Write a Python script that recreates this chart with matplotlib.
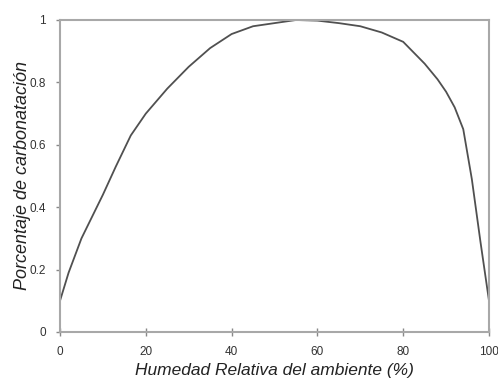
import matplotlib
matplotlib.use("Agg")
import matplotlib.pyplot as plt

plt.rcParams['font.family'] = ['Liberation Sans', 'DejaVu Sans']

humedad = [0, 2, 5, 7.5, 10, 13, 16.5, 20, 25, 30, 35, 40, 45, 50, 55, 60, 65, 70, 75, 80, 85, 88, 90, 92, 94, 96, 98, 100]
carbonatacion = [0.10, 0.19, 0.30, 0.37, 0.44, 0.53, 0.63, 0.70, 0.78, 0.85, 0.91, 0.955, 0.98, 0.99, 1.0,
                 0.998, 0.99, 0.98, 0.96, 0.93, 0.86, 0.81, 0.77, 0.72, 0.65, 0.49, 0.29, 0.10]
xticks = [0, 20, 40, 60, 80, 100]
yticks = [0, 0.2, 0.4, 0.6, 0.8, 1]
xticklabels = ['0', '20', '40', '60', '80', '100']
yticklabels = ['0', '0.2', '0.4', '0.6', '0.8', '1']

fig = plt.figure(figsize=(4.98, 3.81), dpi=100)
ax = fig.add_axes([60/498, 49/381, 429/498, 312/381])
ax.plot(humedad, carbonatacion, color='#505050', linewidth=1.3)
ax.set_xlim(0, 100)
ax.set_ylim(0, 1)
ax.set_xticks(xticks)
ax.set_xticklabels(xticklabels)
ax.set_yticks(yticks)
ax.set_yticklabels(yticklabels)
ax.margins(0)
for s in ax.spines.values():
    s.set_color('#a8a8a8')
    s.set_linewidth(1.5)
ax.tick_params(axis='x', direction='inout', length=6, width=1, color='#888888',
               labelsize=8.5, labelcolor='#333333', pad=7)
ax.tick_params(axis='y', direction='out', length=3, width=1, color='#888888',
               labelsize=8.5, labelcolor='#333333', pad=7)
ax.set_xlabel('Humedad Relativa del ambiente (%)', fontsize=12.5, style='italic', color='#222222', labelpad=4)
ax.set_ylabel('Porcentaje de carbonatación', fontsize=13, style='italic', color='#222222')
ax.yaxis.set_label_coords(-0.068, 0.5)
fig.savefig('out.png', dpi=100)
